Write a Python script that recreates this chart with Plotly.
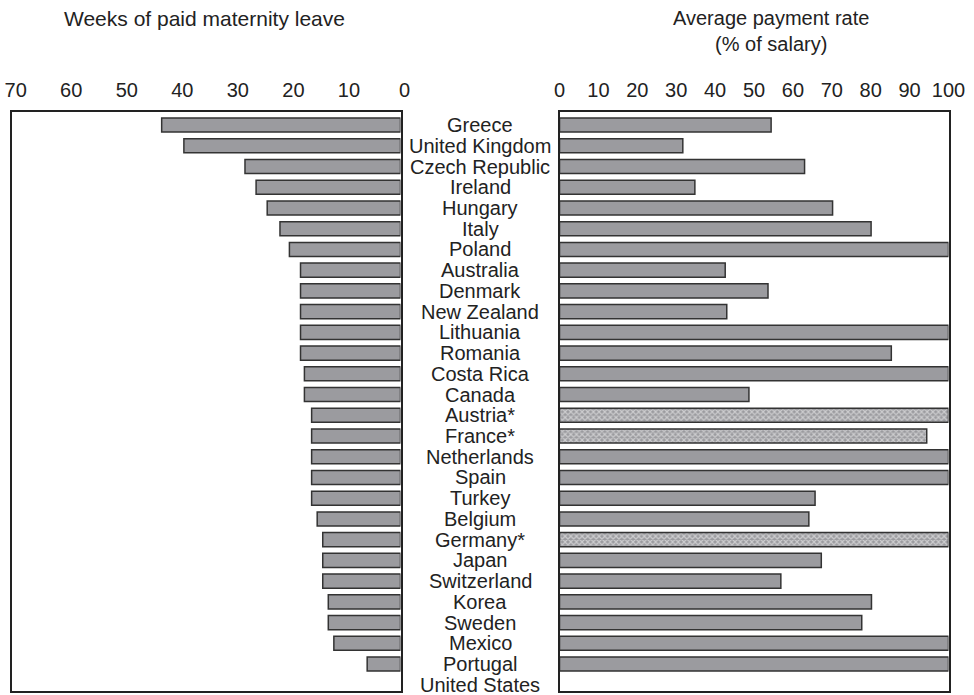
import plotly.graph_objects as go

# Countries, top to bottom
countries = [
    "Greece", "United Kingdom", "Czech Republic", "Ireland", "Hungary", "Italy",
    "Poland", "Australia", "Denmark", "New Zealand", "Lithuania", "Romania",
    "Costa Rica", "Canada", "Austria*", "France*", "Netherlands", "Spain",
    "Turkey", "Belgium", "Germany*", "Japan", "Switzerland", "Korea", "Sweden",
    "Mexico", "Portugal", "United States",
]

# Weeks of paid maternity leave
weeks = [43, 39, 28, 26, 24, 21.7, 20, 18, 18, 18, 18, 18, 17.3, 17.3,
         16, 16, 16, 16, 16, 15, 14, 14, 14, 13, 13, 12, 6, 0]

# Average payment rate (% of salary)
pay_rate = [54.4, 31.7, 63, 34.8, 70.2, 80.1, 100, 42.6, 53.6, 43, 100, 85.3,
            100, 48.7, 100, 94.4, 100, 100, 65.7, 64.1, 100, 67.3, 56.9, 80.2,
            77.7, 100, 100, None]

left_ticks = [70, 60, 50, 40, 30, 20, 10, 0]
right_ticks = [0, 10, 20, 30, 40, 50, 60, 70, 80, 90, 100]

rows = list(range(len(countries)))
starred = [c.endswith("*") for c in countries]

BAR_FILL = "#9b9b9f"
BAR_EDGE = "#333333"
FRAME = "#222222"
TEXT = "#222222"
FONT = "Liberation Sans, Arial, sans-serif"

W, H = 974, 695
M_TOP, M_BOT = 112, 4
PLOT_H = H - M_TOP - M_BOT


def paper_y(px):
    """Convert a pixel row (from the top of the page) to paper y."""
    return (H - M_BOT - px) / PLOT_H


fig = go.Figure()

# Zero-length bars get no outline so nothing is drawn for them
fig.add_trace(go.Bar(
    x=weeks, y=rows, orientation="h",
    marker=dict(color=BAR_FILL,
                line=dict(color=BAR_EDGE,
                          width=[1.5 if v else 0 for v in weeks])),
    xaxis="x", yaxis="y", showlegend=False, hoverinfo="x",
))

fig.add_trace(go.Bar(
    x=pay_rate, y=rows, orientation="h",
    marker=dict(
        color=BAR_FILL,
        line=dict(color=BAR_EDGE, width=1.5),
        pattern=dict(shape=["x" if s else "" for s in starred],
                     fgcolor="white", size=4, solidity=0.5),
    ),
    xaxis="x2", yaxis="y2", showlegend=False, hoverinfo="x",
))

left_dom = [11.7 / W, 400.5 / W]
right_dom = [559.5 / W, 948.5 / W]
y_range = [len(countries) - 1 + 0.3, -0.63]

axis_font = dict(family=FONT, size=20, color=TEXT)

fig.update_layout(
    width=W, height=H,
    margin=dict(l=0, r=0, t=M_TOP, b=M_BOT, autoexpand=False),
    paper_bgcolor="white", plot_bgcolor="white",
    bargap=0.32,
    font=dict(family=FONT, color=TEXT),
    xaxis=dict(
        domain=left_dom, range=[70, 0], side="top", anchor="y",
        tickvals=left_ticks, ticktext=[str(v) for v in left_ticks],
        tickfont=axis_font, ticks="outside", ticklen=5, ticklabelshift=-4,
        tickcolor="rgba(0,0,0,0)", showgrid=False, zeroline=False,
        showline=True, mirror=True, linecolor=FRAME, linewidth=2,
        automargin=False,
    ),
    yaxis=dict(
        domain=[0, 1], range=y_range, anchor="x",
        showticklabels=False, ticks="", showgrid=False, zeroline=False,
        showline=True, mirror=True, linecolor=FRAME, linewidth=2,
        automargin=False,
    ),
    xaxis2=dict(
        domain=right_dom, range=[0, 100], side="top", anchor="y2",
        tickvals=right_ticks, ticktext=[str(v) for v in right_ticks],
        tickfont=axis_font, ticks="outside", ticklen=5,
        tickcolor="rgba(0,0,0,0)", showgrid=False, zeroline=False,
        showline=True, mirror=True, linecolor=FRAME, linewidth=2,
        automargin=False,
    ),
    yaxis2=dict(
        domain=[0, 1], range=y_range, anchor="x2",
        showticklabels=False, ticks="", showgrid=False, zeroline=False,
        showline=True, mirror=True, linecolor=FRAME, linewidth=2,
        automargin=False,
    ),
)

# Country names in the gutter between the two panels
for i, name in zip(rows, countries):
    fig.add_annotation(
        x=480 / W, xref="paper", y=i, yref="y",
        text=name, showarrow=False, xanchor="center", yanchor="middle",
        font=dict(family=FONT, size=20, color=TEXT),
    )

# Panel titles
fig.add_annotation(
    x=204.5 / W, xref="paper", y=paper_y(18), yref="paper",
    yanchor="middle", xanchor="center", showarrow=False,
    text="Weeks of paid maternity leave",
    font=dict(family=FONT, size=21, color=TEXT),
)
fig.add_annotation(
    x=771 / W, xref="paper", y=paper_y(31), yref="paper",
    yanchor="middle", xanchor="center", showarrow=False,
    text="Average payment rate<br>(% of salary)", align="center",
    font=dict(family=FONT, size=20, color=TEXT),
)

fig.write_html("out.html")
